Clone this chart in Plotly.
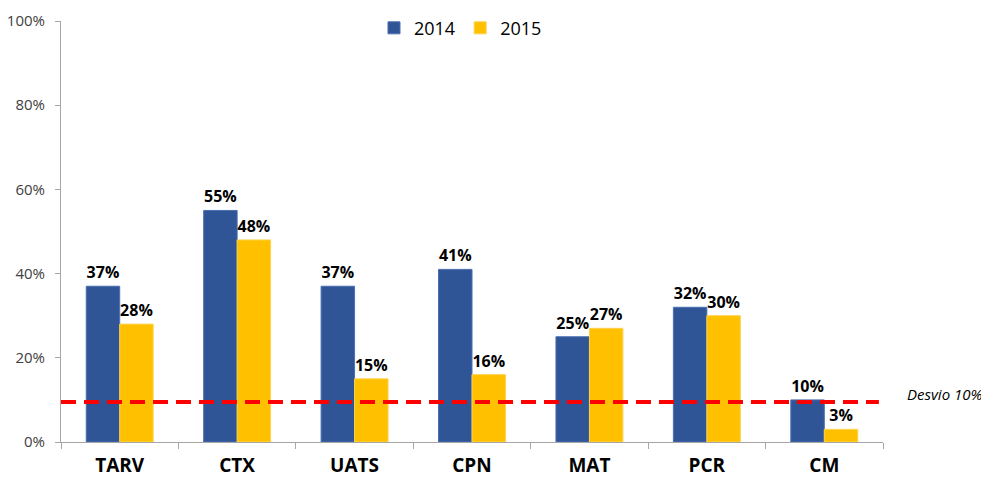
import plotly.graph_objects as go

categories = ["TARV", "CTX", "UATS", "CPN", "MAT", "PCR", "CM"]
values_2014 = [0.37, 0.55, 0.37, 0.41, 0.25, 0.32, 0.10]
values_2015 = [0.28, 0.48, 0.15, 0.16, 0.27, 0.30, 0.03]
threshold = 0.095
threshold_label = "Desvio 10%"

font_main = "Open Sans, Liberation Sans, sans-serif"

fig = go.Figure()
fig.add_trace(go.Bar(
    name="2014", x=categories, y=values_2014,
    marker=dict(color="#2F5597", line=dict(color="#4A6FB0", width=1)),
    text=[f"{v:.0%}" for v in values_2014], textposition="outside",
    textfont=dict(family=font_main, size=16, color="black", weight="bold"),
    cliponaxis=False,
))
fig.add_trace(go.Bar(
    name="2015", x=categories, y=values_2015,
    marker=dict(color="#FFC000", line=dict(color="#FFD24D", width=1)),
    text=[f"{v:.0%}" for v in values_2015], textposition="outside",
    textfont=dict(family=font_main, size=16, color="black", weight="bold"),
    cliponaxis=False,
))

fig.add_shape(type="line", xref="paper", yref="y", x0=0, x1=0.995,
              y0=threshold, y1=threshold,
              line=dict(color="#FF0000", width=4, dash="15px,8px"))
fig.add_annotation(xref="paper", yref="y", x=1.027, y=threshold + 0.019,
                   text=f"<i>{threshold_label}</i>", showarrow=False,
                   xanchor="left", yanchor="middle",
                   font=dict(family=font_main, size=15, color="black"))

fig.update_layout(
    width=981, height=473,
    margin=dict(l=53, r=106, t=13, b=39, autoexpand=False),
    paper_bgcolor="white", plot_bgcolor="white",
    barmode="group", bargap=0.43, bargroupgap=0,
    showlegend=True,
    legend=dict(orientation="h", x=0.486, xanchor="center", y=1.027, yanchor="top",
                font=dict(family=font_main, size=18, color="black"),
                bgcolor="rgba(0,0,0,0)", itemwidth=30),
    font=dict(family=font_main),
)
fig.update_yaxes(range=[0, 1], dtick=0.2, tickformat=".0%", showgrid=False,
                 showline=True, linecolor="#A6A6A6", linewidth=1,
                 ticks="outside", ticklen=5, tickcolor="#A6A6A6",
                 tickfont=dict(family=font_main, size=15, color="#404040"),
                 ticklabelstandoff=7,
                 zeroline=False, automargin=False)
fig.update_xaxes(showline=True, linecolor="#A6A6A6", linewidth=1,
                 ticks="outside", tickson="boundaries", ticklen=6, tickcolor="#A6A6A6",
                 tickfont=dict(family=font_main, size=19, color="black", weight="bold"),
                 ticklabelstandoff=6,
                 showgrid=False, automargin=False)

fig.write_html("out.html")
